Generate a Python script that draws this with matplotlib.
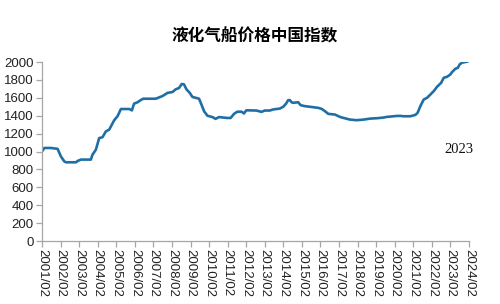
import matplotlib
matplotlib.use("Agg")
import matplotlib.pyplot as plt

# 液化气船价格中国指数 (decimal year, index value)
years = [2001.00, 2001.13, 2001.48, 2001.84, 2002.02, 2002.20, 2002.29, 2002.83,
         2002.92, 2003.10, 2003.63, 2003.72, 2003.90, 2004.08, 2004.26, 2004.44,
         2004.62, 2004.71, 2004.89, 2005.07, 2005.25, 2005.70, 2005.84, 2005.96,
         2006.14, 2006.32, 2006.45, 2007.13, 2007.49, 2007.76, 2008.03, 2008.20,
         2008.38, 2008.53, 2008.65, 2008.78, 2008.96, 2009.10, 2009.46, 2009.55,
         2009.73, 2009.91, 2010.18, 2010.35, 2010.53, 2010.98, 2011.16, 2011.34,
         2011.52, 2011.75, 2011.88, 2012.00, 2012.15,
         2012.55, 2012.82, 2013.00, 2013.27, 2013.45, 2013.81, 2013.99, 2014.14,
         2014.26, 2014.35, 2014.44, 2014.53, 2014.80, 2014.93, 2015.16, 2015.43,
         2015.88, 2016.06, 2016.24, 2016.42, 2016.78, 2017.05, 2017.23, 2017.59,
         2017.95, 2018.32, 2018.68, 2019.04, 2019.40, 2019.58, 2019.94, 2020.12,
         2020.30, 2020.48, 2020.84, 2021.11, 2021.23, 2021.38, 2021.56, 2021.74,
         2021.92, 2022.10, 2022.28, 2022.50, 2022.64, 2022.82, 2023.00, 2023.09,
         2023.27, 2023.40, 2023.50, 2023.63, 2023.90]
index = [1000, 1040, 1040, 1030, 945, 890, 880, 880,
         895, 910, 910, 965, 1020, 1150, 1160, 1225,
         1245, 1280, 1350, 1395, 1475, 1475, 1460, 1535,
         1550, 1575, 1590, 1590, 1620, 1655, 1665, 1695,
         1710, 1755, 1750, 1695, 1655, 1610, 1590, 1545,
         1450, 1400, 1385, 1365, 1385, 1375, 1375, 1420,
         1445, 1445, 1425, 1460, 1460,
         1458, 1443, 1458, 1458, 1470, 1480, 1500, 1533,
         1574, 1574, 1551, 1544, 1551, 1518, 1507, 1500,
         1488, 1477, 1451, 1421, 1413, 1387, 1376, 1357,
         1350, 1357, 1368, 1372, 1380, 1387, 1394, 1398,
         1398, 1394, 1394, 1409, 1432, 1507, 1581, 1600,
         1637, 1675, 1723, 1768, 1824, 1835, 1862, 1888,
         1925, 1936, 1974, 1993, 2004]

tick_years = list(range(2001, 2025))
tick_labels = [f"{y}/02" for y in tick_years]

fig = plt.figure(figsize=(5.0, 3.04), dpi=100)
ax = fig.add_axes([0.084, 0.207, 0.854, 0.589])

ax.plot(years, index, color="#1F6FA6", linewidth=1.9, solid_joinstyle="round")

ax.set_xlim(2001, 2024)
ax.set_ylim(0, 2000)
ax.set_yticks(range(0, 2001, 200))
ax.set_xticks(tick_years)
ax.set_xticklabels(tick_labels, rotation=270, fontsize=9.5,
                   family="Liberation Sans", color="#222222")
for lab in ax.get_yticklabels():
    lab.set_fontsize(9.5)
    lab.set_family("Liberation Sans")
    lab.set_color("#222222")

for side in ("top", "right"):
    ax.spines[side].set_visible(False)
for side in ("left", "bottom"):
    ax.spines[side].set_color("#A6A6A6")
    ax.spines[side].set_linewidth(0.9)
ax.tick_params(axis="both", color="#A6A6A6", length=4, width=0.9, pad=2)

fig.text(0.51, 0.88, "液化气船价格中国指数", ha="center", va="center",
         fontsize=12, fontweight="bold", family=["Noto Sans CJK SC", "DejaVu Sans"])
ax.text(2023.45, 1028, "2023", ha="center", va="center", fontsize=10.5,
        family="Liberation Serif", color="#111111")

fig.savefig("out.png", dpi=100)
